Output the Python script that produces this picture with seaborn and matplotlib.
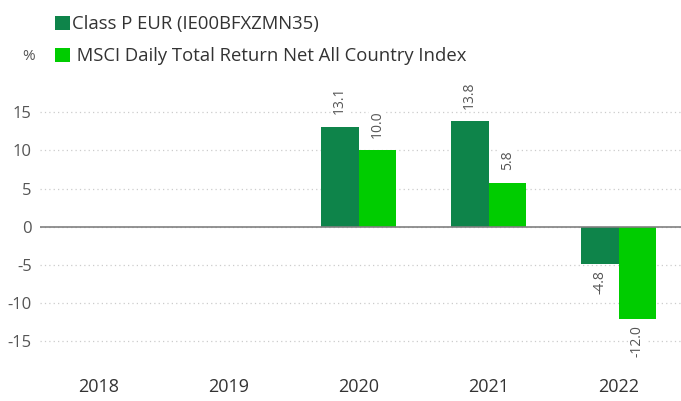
import pandas as pd
import seaborn as sns
import matplotlib.pyplot as plt

years = ["2018", "2019", "2020", "2021", "2022"]
fund = [None, None, 13.1, 13.8, -4.8]
index = [None, None, 10.0, 5.8, -12.0]
series = ["Class P EUR (IE00BFXZMN35)", " MSCI Daily Total Return Net All Country Index"]
colors = ["#0E844A", "#00CC00"]

rows = []
for name, vals in zip(series, [fund, index]):
    for y, v in zip(years, vals):
        if v is not None:
            rows.append({"Year": y, "Series": name, "Value": v})
data = pd.DataFrame(rows)

sns.set_style("white")
plt.rcParams["font.family"] = ["Open Sans", "DejaVu Sans"]

fig = plt.figure(figsize=(6.81, 4.01), dpi=100)
ax = fig.add_axes([40 / 681, 1 - 372 / 401, 1 - 40 / 681, (372 - 97) / 401])

sns.barplot(
    data=data, x="Year", y="Value", hue="Series", order=years,
    hue_order=series, palette=colors, errorbar=None, width=0.58,
    saturation=1, linewidth=0, ax=ax, zorder=2,
)

ax.set_ylim(-19, 17)
ax.set_xlim(-0.45, 4.48)
ax.set_yticks([-15, -10, -5, 0, 5, 10, 15])
ax.set_yticklabels(["-15", "-10", "-5", "0", "5", "10", "15"])
ax.grid(axis="y", linestyle=(0, (1, 2.5)), color="#cccccc", lw=0.9, zorder=0)
ax.axhline(0, color="#808080", lw=1.2, zorder=3)
for s in ax.spines.values():
    s.set_visible(False)
ax.tick_params(axis="y", length=0, pad=6, labelsize=12, labelcolor="#555555")
ax.tick_params(axis="x", length=0, pad=4, labelsize=13, labelcolor="#333333")
ax.set_xlabel("")
ax.set_ylabel("")

for cont in ax.containers:
    for bar in cont:
        h = bar.get_height()
        if pd.isna(h) or bar.get_width() == 0:
            continue
        xc = bar.get_x() + bar.get_width() / 2
        if h >= 0:
            ax.annotate(f"{h:.1f}", (xc, h), xytext=(0, 9), textcoords="offset points",
                        rotation=90, ha="center", va="bottom", fontsize=10, color="#555555",
                        bbox=dict(facecolor="white", edgecolor="none", pad=1), zorder=4,
                        annotation_clip=False)
        else:
            ax.annotate(f"{h:.1f}", (xc, h), xytext=(0, -5), textcoords="offset points",
                        rotation=90, ha="center", va="top", fontsize=10, color="#555555",
                        bbox=dict(facecolor="white", edgecolor="none", pad=1), zorder=4,
                        annotation_clip=False)

leg = ax.legend(loc="upper left", bbox_to_anchor=(48 / 681, 1 - 8 / 401),
                bbox_transform=fig.transFigure, frameon=False, fontsize=13.3,
                handlelength=0.8, handleheight=0.8, handletextpad=0.1,
                labelspacing=0.75, borderaxespad=0)
for t in leg.get_texts():
    t.set_color("#333333")

fig.text(22 / 681, 1 - 56 / 401, "%", fontsize=11, color="#555555", ha="left", va="center")

fig.savefig("out.png", dpi=100)
